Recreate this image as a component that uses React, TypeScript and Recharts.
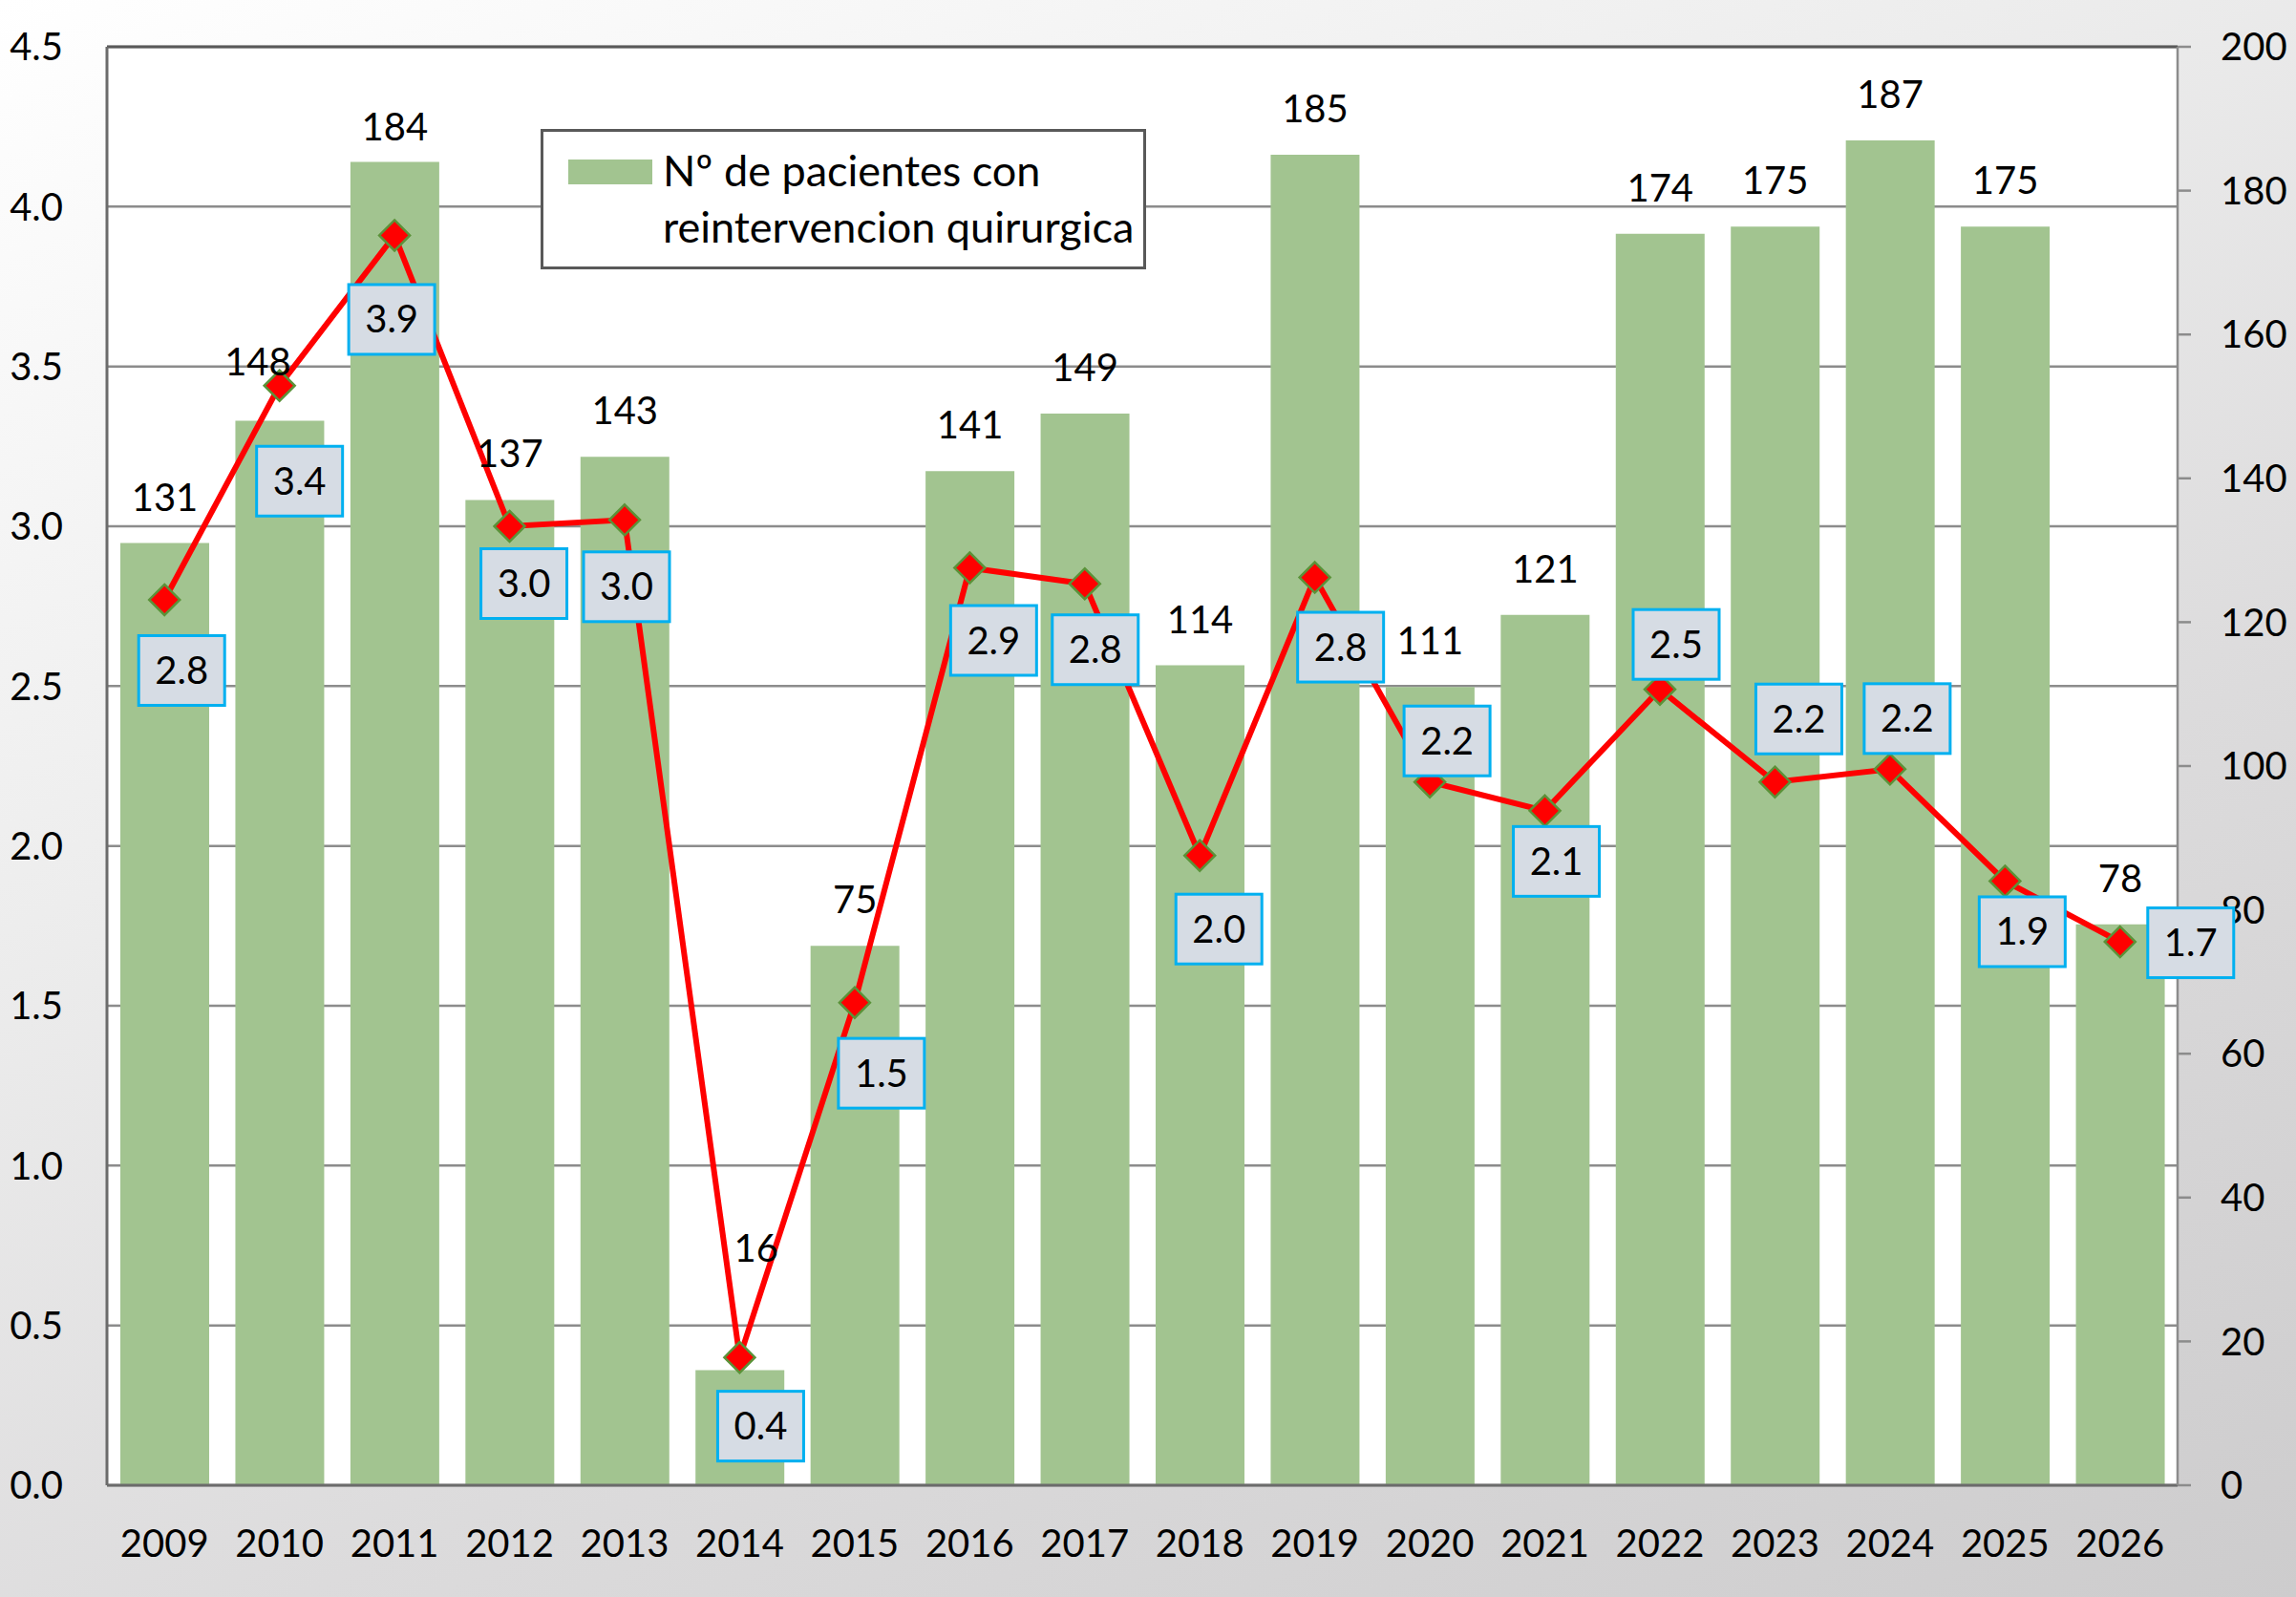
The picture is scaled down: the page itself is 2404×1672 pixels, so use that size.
import React from 'react';
import {
  ComposedChart,
  Bar,
  Line,
  XAxis,
  YAxis,
  CartesianGrid,
  LabelList,
  Legend,
  ReferenceLine,
} from 'recharts';

// ---------------- data ----------------
const years = ['2009', '2010', '2011', '2012', '2013', '2014', '2015', '2016', '2017', '2018', '2019', '2020', '2021', '2022', '2023', '2024', '2025', '2026'];
const patients = [131, 148, 184, 137, 143, 16, 75, 141, 149, 114, 185, 111, 121, 174, 175, 187, 175, 78];
const rate = [2.77, 3.44, 3.91, 3.0, 3.02, 0.4, 1.51, 2.87, 2.82, 1.97, 2.84, 2.2, 2.11, 2.49, 2.2, 2.24, 1.89, 1.7];
const leftTicks = [0, 0.5, 1, 1.5, 2, 2.5, 3, 3.5, 4, 4.5];
const rightTicks = [0, 20, 40, 60, 80, 100, 120, 140, 160, 180, 200];
const barSeriesName = 'Nº de pacientes con reintervencion quirurgica';
const legendLines = ['Nº de pacientes con', 'reintervencion quirurgica'];

// ---------------- layout / style (not data) ----------------
const W = 2404;
const H = 1672;
const FONT = 'Lato, "Open Sans", sans-serif';
const FS = 40;
const BAR_COLOR = '#A2C490';
const LINE_COLOR = '#FF0000';
const MARKER_EDGE = '#5B9239';
const BOX_FILL = '#D6DCE4';
const BOX_EDGE = '#00B0F0';

// label nudges in px: [dx, dy]
const RATE_LABEL_NUDGE: [number, number][] = [
  [18, 74], [21, 100], [-3, 88], [15, 60], [2, 70], [22, 72], [28, 74], [25, 76], [11, 69],
  [20, 77], [27, 73], [18, -43], [12, 53], [17, -47], [25, -66], [18, -53], [18, 53], [74, 1],
];
const COUNT_LABEL_NUDGE: [number, number][] = [
  [0, 0], [-23, -14], [0, 12], [0, 0], [0, 0], [17, -80], [0, 0], [0, 0], [0, 0],
  [0, 0], [0, 0], [0, 0], [0, 0], [0, 0], [0, 0], [0, 0], [0, 0], [0, 0],
];

const data = years.map((y, i) => ({ year: y, patients: patients[i], rate: rate[i] }));

const getIndex = (props: any, x: number) => {
  if (typeof props.index === 'number') return props.index;
  return Math.max(0, Math.min(years.length - 1, Math.round((x - 112) / ((2280 - 112) / years.length) - 0.5)));
};

const CountLabel = (props: any) => {
  const vb = props.viewBox || {};
  const x = vb.x ?? props.x;
  const y = vb.y ?? props.y;
  const w = vb.width ?? props.width ?? 0;
  const i = getIndex(props, x + w / 2);
  const [dx, dy] = COUNT_LABEL_NUDGE[i] || [0, 0];
  return (
    <text
      x={x + w / 2 + dx}
      y={y - 34 + dy}
      textAnchor="middle"
      fill="#000"
      fontSize={FS}
      fontFamily={FONT}
    >
      {props.value}
    </text>
  );
};

const RateLabel = (props: any) => {
  const vb = props.viewBox || {};
  const x = vb.x ?? props.x;
  const y = vb.y ?? props.y;
  const i = getIndex(props, x);
  const [dx, dy] = RATE_LABEL_NUDGE[i] || [0, 0];
  const cx = x + dx;
  const cy = y + dy;
  const bw = 90;
  const bh = 73;
  return (
    <g>
      <rect x={cx - bw / 2} y={cy - bh / 2} width={bw} height={bh} fill={BOX_FILL} stroke={BOX_EDGE} strokeWidth={3} />
      <text x={cx} y={cy + 14} textAnchor="middle" fill="#000" fontSize={FS} fontFamily={FONT}>
        {Number(props.value).toFixed(1)}
      </text>
    </g>
  );
};

const Diamond = (props: any) => {
  const { cx, cy, index } = props;
  if (cx == null || cy == null) return <g key={`d-${index}`} />;
  const r = 16;
  return (
    <path
      key={`d-${index}`}
      d={`M${cx},${cy - r} L${cx + r},${cy} L${cx},${cy + r} L${cx - r},${cy} Z`}
      fill={LINE_COLOR}
      stroke={MARKER_EDGE}
      strokeWidth={2.5}
    />
  );
};

const LegendBox = () => (
  <svg width={634} height={147} style={{ display: 'block' }}>
    <rect x={1.5} y={1.5} width={631} height={144} fill="#FFFFFF" stroke="#595959" strokeWidth={3} />
    <rect x={29} y={32} width={88} height={26} fill={BAR_COLOR} />
    {legendLines.map((t, k) => (
      <text key={k} x={128} y={60 + k * 59} fill="#000" fontSize={45} fontFamily={FONT}>
        {t}
      </text>
    ))}
  </svg>
);

export default function App() {
  return (
    <div
      style={{
        position: 'absolute',
        left: 0,
        top: 0,
        width: W,
        height: H,
        background: 'linear-gradient(155deg, #FFFFFF 0%, #EDEDED 35%, #DCDBDC 65%, #CDCCCD 100%)',
        fontFamily: FONT,
      }}
    >
      <ComposedChart width={W} height={H} data={data} margin={{ top: 49, right: 0, bottom: 0, left: 0 }}>
        <CartesianGrid yAxisId="left" vertical={false} stroke="#8C8C8C" strokeWidth={2.5} fill="#FFFFFF" />
        <XAxis
          dataKey="year"
          height={117}
          tickLine={false}
          tickSize={6}
          tickMargin={41}
          interval={0}
          axisLine={{ stroke: '#6B6B6B', strokeWidth: 3 }}
          tick={{ fill: '#000', fontSize: FS, fontFamily: FONT }}
        />
        <YAxis
          yAxisId="left"
          orientation="left"
          width={112}
          domain={[0, 4.5]}
          ticks={leftTicks}
          interval={0}
          tickLine={false}
          tickSize={6}
          tickMargin={40}
          tickFormatter={(v: number) => v.toFixed(1)}
          axisLine={{ stroke: '#6B6B6B', strokeWidth: 3 }}
          tick={{ fill: '#000', fontSize: FS, fontFamily: FONT }}
        />
        <YAxis
          yAxisId="right"
          orientation="right"
          width={124}
          domain={[0, 200]}
          ticks={rightTicks}
          interval={0}
          tickSize={14}
          tickMargin={31}
          tickLine={{ stroke: '#8C8C8C', strokeWidth: 2.5 }}
          axisLine={{ stroke: '#8C8C8C', strokeWidth: 2.5 }}
          tick={{ fill: '#000', fontSize: FS, fontFamily: FONT }}
        />
        <ReferenceLine yAxisId="left" y={4.5} stroke="#595959" strokeWidth={3} />
        <Legend
          layout="vertical"
          align="center"
          verticalAlign="middle"
          wrapperStyle={{ left: 566, top: 135, width: 634, height: 147 }}
          content={() => <LegendBox />}
        />
        <Bar
          yAxisId="right"
          dataKey="patients"
          name={barSeriesName}
          fill={BAR_COLOR}
          barSize={93}
          isAnimationActive={false}
        >
          <LabelList dataKey="patients" content={<CountLabel />} />
        </Bar>
        <Line
          yAxisId="left"
          dataKey="rate"
          type="linear"
          stroke={LINE_COLOR}
          strokeWidth={6}
          dot={(p: any) => <Diamond {...p} />}
          activeDot={false}
          legendType="none"
          isAnimationActive={false}
        >
          <LabelList dataKey="rate" content={<RateLabel />} />
        </Line>
      </ComposedChart>
    </div>
  );
}
